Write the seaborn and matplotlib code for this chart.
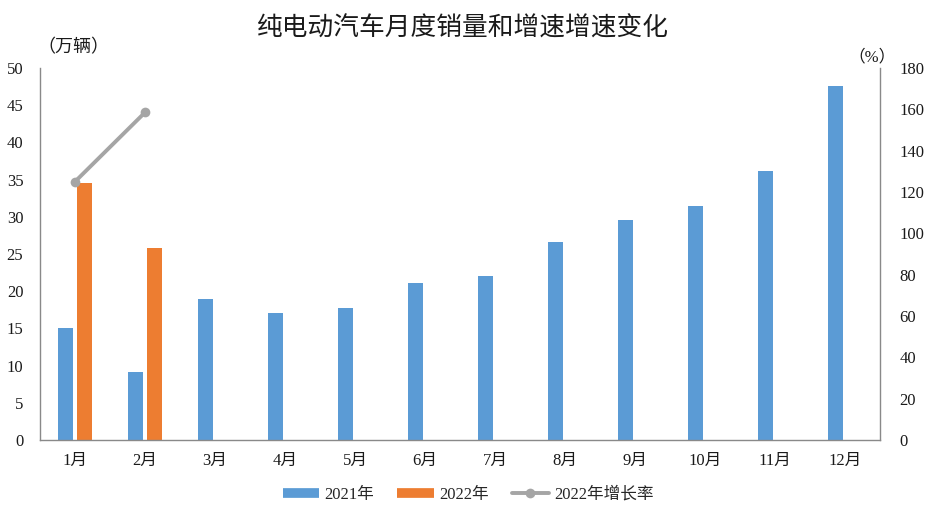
import matplotlib
matplotlib.use("Agg")
import matplotlib.pyplot as plt
import seaborn as sns
import pandas as pd
import numpy as np
from matplotlib.lines import Line2D

months = ["1月", "2月", "3月", "4月", "5月", "6月", "7月", "8月", "9月", "10月", "11月", "12月"]
sales_2021 = [15.1, 9.2, 19.0, 17.1, 17.8, 21.1, 22.0, 26.6, 29.6, 31.5, 36.1, 47.6]
sales_2022 = [34.6, 25.8, np.nan, np.nan, np.nan, np.nan, np.nan, np.nan, np.nan, np.nan, np.nan, np.nan]
growth_months = ["1月", "2月"]
growth_2022 = [125.0, 158.5]
series_names = ["2021年", "2022年", "2022年增长率"]
left_ticks = list(range(0, 55, 5))
right_ticks = list(range(0, 200, 20))

sns.set_theme(style="white")
plt.rcParams['font.family'] = ['Liberation Serif', 'Noto Sans CJK SC', 'DejaVu Sans']
plt.rcParams['axes.unicode_minus'] = False

blue = "#5B9BD5"
orange = "#ED7D31"
gray = "#A5A5A5"
spine = "#898989"
txt = "#1a1a1a"

df = pd.DataFrame({
    "month": months * 2,
    "value": sales_2021 + sales_2022,
    "series": [series_names[0]] * 12 + [series_names[1]] * 12,
})

fig = plt.figure(figsize=(9.35, 5.16), dpi=100)
ax = fig.add_axes([40 / 935, (516 - 440) / 516, 840 / 935, 372 / 516])

sns.barplot(data=df, x="month", y="value", hue="series", order=months,
            hue_order=series_names[:2], palette=[blue, orange],
            width=0.571, gap=0.25, dodge=True, saturation=1, ax=ax,
            legend=False, edgecolor="none", linewidth=0)

ax.set_xlim(-0.5, 11.5)
ax.set_ylim(0, 50)
ax.set_yticks(left_ticks)
ax.set_xlabel("")
ax.set_ylabel("")
ax.tick_params(axis="both", length=0, labelsize=12, colors=txt)
ax.tick_params(axis="x", pad=9)
ax.tick_params(axis="y", pad=12)
for s in ["top", "right"]:
    ax.spines[s].set_visible(False)
for s in ["left", "bottom"]:
    ax.spines[s].set_color(spine)
    ax.spines[s].set_linewidth(1.0)

ax2 = ax.twinx()
gx = [months.index(m) for m in growth_months]
sns.lineplot(x=gx, y=growth_2022, ax=ax2, color=gray, linewidth=2.8,
             marker="o", markersize=7, markeredgewidth=0, legend=False)
ax2.set_ylim(0, 180)
ax2.set_yticks(right_ticks)
ax2.set_xlim(-0.5, 11.5)
ax2.set_ylabel("")
ax2.tick_params(axis="y", length=0, labelsize=12, colors=txt, pad=14)
for s in ["top", "left", "bottom"]:
    ax2.spines[s].set_visible(False)
ax2.spines["right"].set_color(spine)
ax2.spines["right"].set_linewidth(1.0)

fig.text(463 / 935, 1 - 28 / 516, "纯电动汽车月度销量和增速增速变化", ha="center", va="center",
         fontsize=18.5, color=txt)
fig.text(73 / 935, 1 - 48 / 516, "（万辆）", ha="center", va="center", fontsize=13, color=txt)
fig.text(872 / 935, 1 - 57 / 516, "（%）", ha="center", va="center", fontsize=12, color=txt)

handles = [
    Line2D([0], [0], color=blue, linewidth=7, solid_capstyle="butt"),
    Line2D([0], [0], color=orange, linewidth=7, solid_capstyle="butt"),
    Line2D([0], [0], color=gray, linewidth=2.8, marker="o", markersize=7,
           markeredgewidth=0, solid_capstyle="round"),
]
fig.legend(handles, series_names, loc="center", bbox_to_anchor=(468 / 935, 1 - 495 / 516),
           ncol=3, frameon=False, fontsize=12, handlelength=2.2, columnspacing=1.4,
           handletextpad=0.3)

fig.savefig("out.png", dpi=100)
